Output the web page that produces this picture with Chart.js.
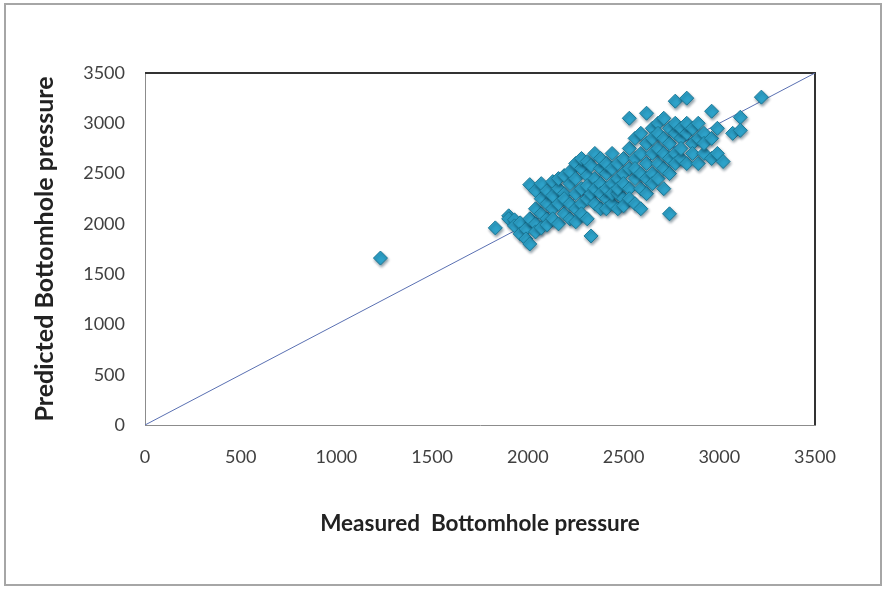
<!DOCTYPE html>
<html>
<head>
<meta charset="utf-8">
<script src="https://cdn.jsdelivr.net/npm/chart.js@4"></script>
<style>
  html, body { margin: 0; padding: 0; background: #fff; }
  #wrap { position: relative; width: 885px; height: 589px; }
  #frame { position: absolute; left: 4px; top: 3px; width: 878px; height: 583px; border: 2px solid #a6a6a6; box-sizing: border-box; }
  canvas { position: absolute; left: 0; top: 0; }
</style>
</head>
<body>
<div id="wrap">
  <div id="frame"></div>
  <canvas id="myChart" width="885" height="589"></canvas>
</div>
<script>
// measured vs predicted bottomhole pressure
const measured = [
  1230, 1830, 1900, 1900, 1930, 1930, 1960, 1960, 1990, 1990,
  2010, 2010, 2010, 2040, 2040, 2040, 2040, 2070, 2070, 2070, 2070,
  2100, 2100, 2100, 2100, 2130, 2130, 2130, 2130, 2160, 2160, 2160, 2160,
  2190, 2190, 2190, 2190, 2220, 2220, 2220, 2220, 2250, 2250, 2250, 2250, 2250,
  2280, 2280, 2280, 2280, 2280, 2310, 2310, 2310, 2310, 2310, 2330, 2330, 2330,
  2350, 2350, 2350, 2350, 2380, 2380, 2380, 2380, 2380, 2410, 2410, 2410, 2410, 2410,
  2440, 2440, 2440, 2440, 2440, 2470, 2470, 2470, 2470, 2470, 2500, 2500, 2500, 2500, 2500,
  2530, 2530, 2530, 2530, 2530, 2560, 2560, 2560, 2560, 2560, 2590, 2590, 2590, 2590, 2590,
  2620, 2620, 2620, 2620, 2620, 2650, 2650, 2650, 2650, 2650, 2680, 2680, 2680, 2680, 2680,
  2710, 2710, 2710, 2710, 2710, 2740, 2740, 2740, 2740, 2740, 2770, 2770, 2770, 2770, 2770,
  2800, 2800, 2800, 2800, 2830, 2830, 2830, 2830, 2860, 2860, 2860, 2890, 2890, 2890,
  2920, 2920, 2920, 2960, 2960, 2960, 2990, 2990, 3020, 3070, 3110, 3110, 3220
];
const predicted = [
  1660, 1960, 2080, 2050, 2040, 1980, 2010, 1900, 1950, 1850,
  1800, 2390, 2050, 2000, 2330, 2150, 1920, 2100, 2250, 1960, 2400,
  2050, 2200, 2330, 1990, 2150, 2420, 2050, 2280, 2000, 2350, 2200, 2450,
  2100, 2300, 2480, 2250, 2050, 2400, 2200, 2520, 2150, 2600, 2300, 2450, 2020,
  2350, 2200, 2550, 2100, 2650, 2250, 2480, 2050, 2620, 2380, 1880, 2300, 2580,
  2450, 2700, 2200, 2350, 2550, 2150, 2400, 2650, 2300, 2500, 2250, 2350, 2600, 2150,
  2400, 2200, 2550, 2300, 2700, 2450, 2150, 2600, 2300, 2350, 2250, 2500, 2650, 2400, 2180,
  3050, 2350, 2550, 2750, 2250, 2450, 2650, 2200, 2850, 2550, 2700, 2350, 2500, 2900, 2150,
  3100, 2600, 2800, 2450, 2300, 2700, 2950, 2500, 2850, 2400, 2600, 3000, 2750, 2450, 2900,
  2850, 2550, 3050, 2700, 2350, 2100, 2800, 2650, 2950, 2500, 3220, 2700, 2900, 2600, 3000,
  2850, 2650, 2950, 2750, 3250, 2600, 2900, 3000, 2800, 2700, 2950, 2850, 2600, 3000,
  2700, 2900, 2800, 3120, 2650, 2850, 2700, 2950, 2620, 2900, 3060, 2930, 3260
];
const lineX = [0, 3500];
const lineY = [0, 3500];
const tickFont = { family: 'Lato', size: 18 };

const points = measured.map((x, i) => { return { x: x, y: predicted[i] } });
const diagonal = lineX.map((x, i) => { return { x: x, y: lineY[i] } });

// box round the plot area: grey left/bottom come from the axes, dark top/right here
const plotBox = {
  id: 'plotBox',
  beforeDatasetsDraw(chart) {
    const { ctx, chartArea: a } = chart;
    ctx.save();
    ctx.lineWidth = 2;
    ctx.strokeStyle = '#333';
    ctx.beginPath();
    ctx.moveTo(a.left, a.top);
    ctx.lineTo(a.right, a.top);
    ctx.lineTo(a.right, a.bottom);
    ctx.stroke();
    ctx.restore();
  }
};

// soft drop shadow under the diamond markers
const markerShadow = {
  id: 'markerShadow',
  beforeDatasetDraw(chart, args) {
    if (args.index !== 0) return;
    const ctx = chart.ctx;
    ctx.save();
    ctx.shadowColor = 'rgba(0, 40, 60, 0.45)';
    ctx.shadowBlur = 3;
    ctx.shadowOffsetX = 1;
    ctx.shadowOffsetY = 2;
  },
  afterDatasetDraw(chart, args) {
    if (args.index !== 0) return;
    chart.ctx.restore();
  }
};

const config = {
  type: 'scatter',
  data: {
    datasets: [{
      label: 'Predicted',
      data: points,
      pointStyle: 'rectRot',
      pointRadius: 7,
      pointHoverRadius: 7,
      backgroundColor: '#2ea2c9',
      borderColor: '#1b7896',
      borderWidth: 1,
      order: 1
    }, {
      type: 'line',
      label: 'y = x',
      data: diagonal,
      borderColor: '#5a70b2',
      borderWidth: 1,
      pointRadius: 0,
      fill: false,
      order: 2
    }]
  },
  options: {
    responsive: false,
    animation: false,
    layout: { padding: { left: 25, top: 73, right: 70, bottom: 52 } },
    plugins: { legend: { display: false }, tooltip: { enabled: false } },
    scales: {
      x: {
        type: 'linear',
        min: 0,
        max: 3500,
        ticks: { stepSize: 500, font: tickFont, color: '#404040', padding: 21, callback: (v) => String(v) },
        grid: { display: false, drawTicks: false },
        border: { color: '#8c8c8c', width: 1 },
        title: {
          display: true,
          text: 'Measured  Bottomhole pressure',
          font: { family: 'Lato', size: 22.5, weight: 'bold' },
          color: '#222',
          padding: 0
        },
        afterFit: (scale) => { scale.height = 112; }
      },
      y: {
        type: 'linear',
        min: 0,
        max: 3500,
        ticks: { stepSize: 500, font: tickFont, color: '#404040', padding: 20, callback: (v) => String(v) },
        grid: { display: false, drawTicks: false },
        border: { color: '#8c8c8c', width: 1 },
        title: {
          display: true,
          text: 'Predicted Bottomhole pressure',
          font: { family: 'Lato', size: 25, weight: 'bold' },
          color: '#222',
          padding: { top: 5, bottom: 0 }
        },
        afterFit: (scale) => { scale.width = 120; }
      }
    }
  },
  plugins: [plotBox, markerShadow]
};

const myChart = new Chart(document.getElementById('myChart'), config);
</script>
</body>
</html>
